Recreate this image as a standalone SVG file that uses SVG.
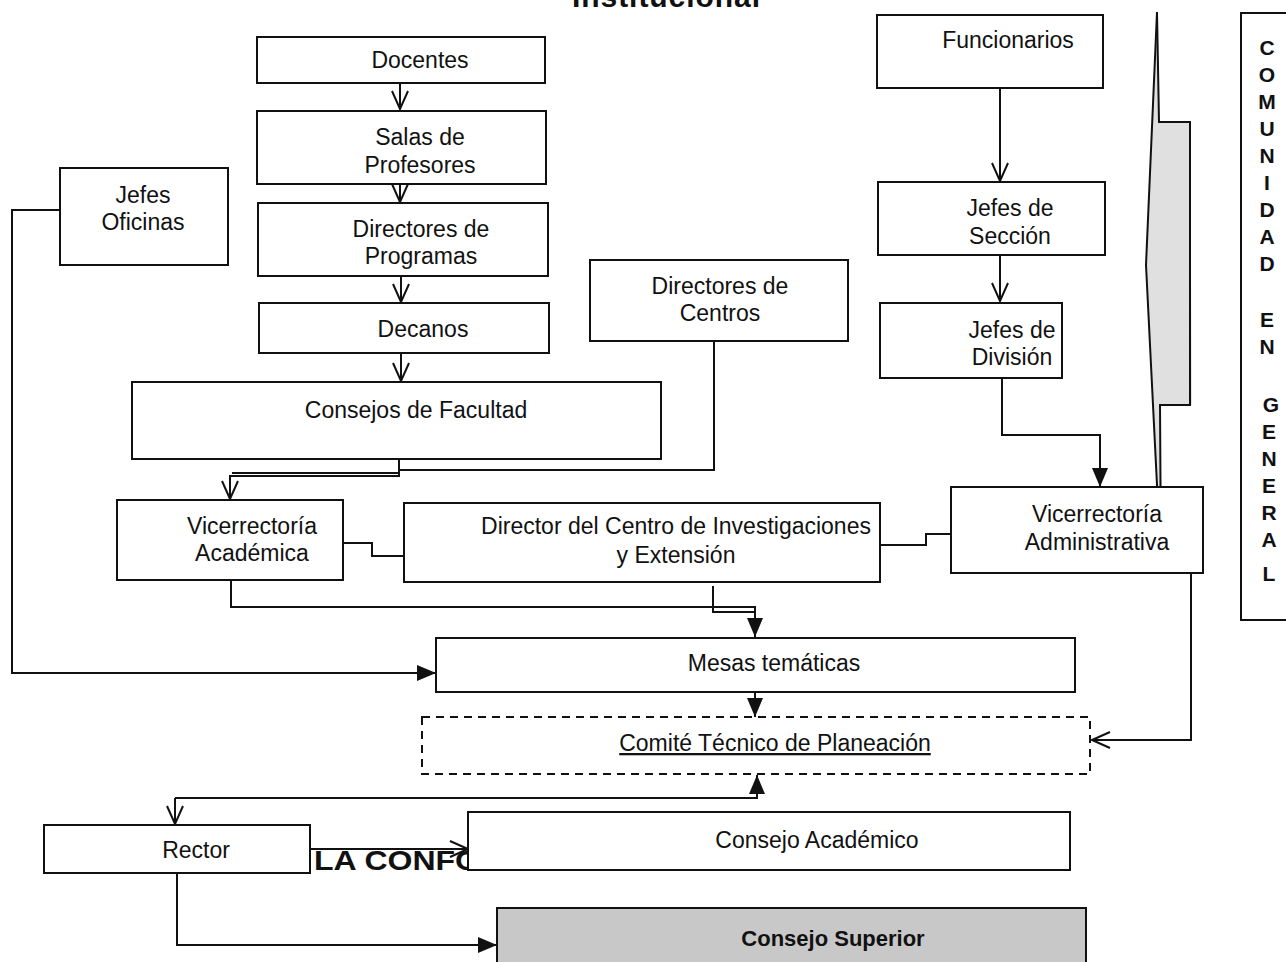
<svg xmlns="http://www.w3.org/2000/svg" width="1286" height="962" viewBox="0 0 1286 962">
<style>
.box{fill:#fff;stroke:#111;stroke-width:2}
.t{font-family:"Liberation Sans",Arial,sans-serif;font-size:23px;fill:#111;text-anchor:middle}
.b{font-family:"Liberation Sans",Arial,sans-serif;font-weight:bold;fill:#111}
.c{fill:none;stroke:#111;stroke-width:2}
.o{marker-end:url(#open)}
.f{marker-end:url(#fill)}
.v{font-family:"Liberation Sans",Arial,sans-serif;font-weight:bold;font-size:21px;fill:#111;text-anchor:middle}
</style>
<defs>
<marker id="open" markerUnits="userSpaceOnUse" markerWidth="22" markerHeight="20" viewBox="0 -10 20 20" refX="19" refY="0" orient="auto">
<path d="M1,-8 L19,0 L1,8" fill="none" stroke="#111" stroke-width="2"/>
</marker>
<marker id="fill" markerUnits="userSpaceOnUse" markerWidth="20" markerHeight="18" viewBox="0 -9 20 18" refX="19" refY="0" orient="auto">
<path d="M0,-8 L19,0 L0,8 Z" fill="#111"/>
</marker>
</defs>
<rect width="1286" height="962" fill="#fff"/>

<text class="b" x="666" y="7" font-size="30" text-anchor="middle" textLength="188">Institucional</text>

<g id="connectors">
<path class="c o" d="M400,83 V109"/>
<path class="c o" d="M400,184 V202"/>
<path class="c o" d="M401,277 V302"/>
<path class="c o" d="M401,353 V381"/>
<path class="c f" d="M60,210 H12 V673 H436"/>
<path class="c" d="M714,341 V470 H399"/>
<path class="c o" d="M399,459 V476 H230 V499"/>
<path class="c" d="M232,473 H399"/>
<path class="c" d="M343,543 H372 V556 H404"/>
<path class="c" d="M880,545 H926 V534 H951"/>
<path class="c f" d="M231,580 V607 H755 V637"/>
<path class="c" d="M713,586 V612 H755"/>
<path class="c o" d="M1000,88 V181"/>
<path class="c o" d="M1000,255 V301"/>
<path class="c f" d="M1002,378 V435 H1100 V487"/>
<path class="c f" d="M755,692 V717"/>
<path class="c o" d="M1191,573 V740 H1092"/>
<path class="c f" d="M175,798 H757 V775"/>
<path class="c o" d="M175,798 V824"/>
<path class="c f" d="M177,873 V945 H497"/>
</g>

<g id="brace">
<path d="M1157,12 L1146,265 L1161,565 L1160,405 L1192,405 L1190,122 L1159,122 Z" fill="#e0e0e0" stroke="none"/>
<path d="M1157,12 L1146,265 L1161,565" fill="none" stroke="#111" stroke-width="2"/>
<path d="M1157,12 L1159,122 H1190 V405 H1160 L1161,565" fill="none" stroke="#111" stroke-width="2"/>
</g>

<g id="comunidad">
<rect class="box" x="1241" y="13" width="60" height="607"/>
<text class="v" x="1267" y="55">C</text>
<text class="v" x="1267" y="82">O</text>
<text class="v" x="1267" y="109">M</text>
<text class="v" x="1267" y="136">U</text>
<text class="v" x="1267" y="163">N</text>
<text class="v" x="1267" y="190">I</text>
<text class="v" x="1267" y="217">D</text>
<text class="v" x="1267" y="244">A</text>
<text class="v" x="1267" y="271">D</text>
<text class="v" x="1267" y="327">E</text>
<text class="v" x="1267" y="354">N</text>
<text class="v" x="1271" y="412">G</text>
<text class="v" x="1269" y="439">E</text>
<text class="v" x="1269" y="466">N</text>
<text class="v" x="1269" y="493">E</text>
<text class="v" x="1269" y="520">R</text>
<text class="v" x="1269" y="547">A</text>
<text class="v" x="1269" y="581">L</text>
</g>

<g id="docentes"><rect class="box" x="257" y="37" width="288" height="46"/><text class="t" x="420" y="68">Docentes</text></g>
<g id="salas"><rect class="box" x="257" y="111" width="289" height="73"/><text class="t" x="420" y="145">Salas de</text><text class="t" x="420" y="173">Profesores</text></g>
<g id="directores-programas"><rect class="box" x="258" y="203" width="290" height="73"/><text class="t" x="421" y="237">Directores de</text><text class="t" x="421" y="264">Programas</text></g>
<g id="decanos"><rect class="box" x="259" y="303" width="290" height="50"/><text class="t" x="423" y="337">Decanos</text></g>
<g id="consejos-facultad"><rect class="box" x="132" y="382" width="529" height="77"/><text class="t" x="416" y="418">Consejos de Facultad</text></g>
<g id="jefes-oficinas"><rect class="box" x="60" y="168" width="168" height="97"/><text class="t" x="143" y="203">Jefes</text><text class="t" x="143" y="230">Oficinas</text></g>
<g id="directores-centros"><rect class="box" x="590" y="260" width="258" height="81"/><text class="t" x="720" y="294">Directores de</text><text class="t" x="720" y="321">Centros</text></g>
<g id="funcionarios"><rect class="box" x="877" y="15" width="226" height="73"/><text class="t" x="1008" y="48">Funcionarios</text></g>
<g id="jefes-seccion"><rect class="box" x="878" y="182" width="227" height="73"/><text class="t" x="1010" y="216">Jefes de</text><text class="t" x="1010" y="244">Sección</text></g>
<g id="jefes-division"><rect class="box" x="880" y="303" width="182" height="75"/><text class="t" x="1012" y="338">Jefes de</text><text class="t" x="1012" y="365">División</text></g>
<g id="vic-academica"><rect class="box" x="117" y="500" width="226" height="80"/><text class="t" x="252" y="534">Vicerrectoría</text><text class="t" x="252" y="561">Académica</text></g>
<g id="director-centro"><rect class="box" x="404" y="503" width="476" height="79"/><text class="t" x="676" y="534">Director del Centro de Investigaciones</text><text class="t" x="676" y="563">y Extensión</text></g>
<g id="vic-administrativa"><rect class="box" x="951" y="487" width="252" height="86"/><text class="t" x="1097" y="522">Vicerrectoría</text><text class="t" x="1097" y="550">Administrativa</text></g>
<g id="mesas"><rect class="box" x="436" y="638" width="639" height="54"/><text class="t" x="774" y="671">Mesas temáticas</text></g>
<g id="comite"><rect x="422" y="717" width="668" height="57" fill="#fff" stroke="#111" stroke-width="2" stroke-dasharray="8,6"/><text class="t" x="775" y="751" text-decoration="underline">Comité Técnico de Planeación</text></g>
<g id="rector"><rect class="box" x="44" y="825" width="266" height="48"/><text class="t" x="196" y="858">Rector</text></g>
<text class="b" x="314" y="870" font-size="28" textLength="166" lengthAdjust="spacingAndGlyphs">LA CONFO</text>
<path class="c o" d="M310,849 H468"/>
<g id="consejo-academico"><rect class="box" x="468" y="812" width="602" height="58"/><text class="t" x="817" y="848">Consejo Académico</text></g>
<g id="consejo-superior"><rect x="497" y="908" width="589" height="70" fill="#c8c8c8" stroke="#111" stroke-width="2"/><text class="b" x="833" y="946" font-size="22" text-anchor="middle">Consejo Superior</text></g>
</svg>
